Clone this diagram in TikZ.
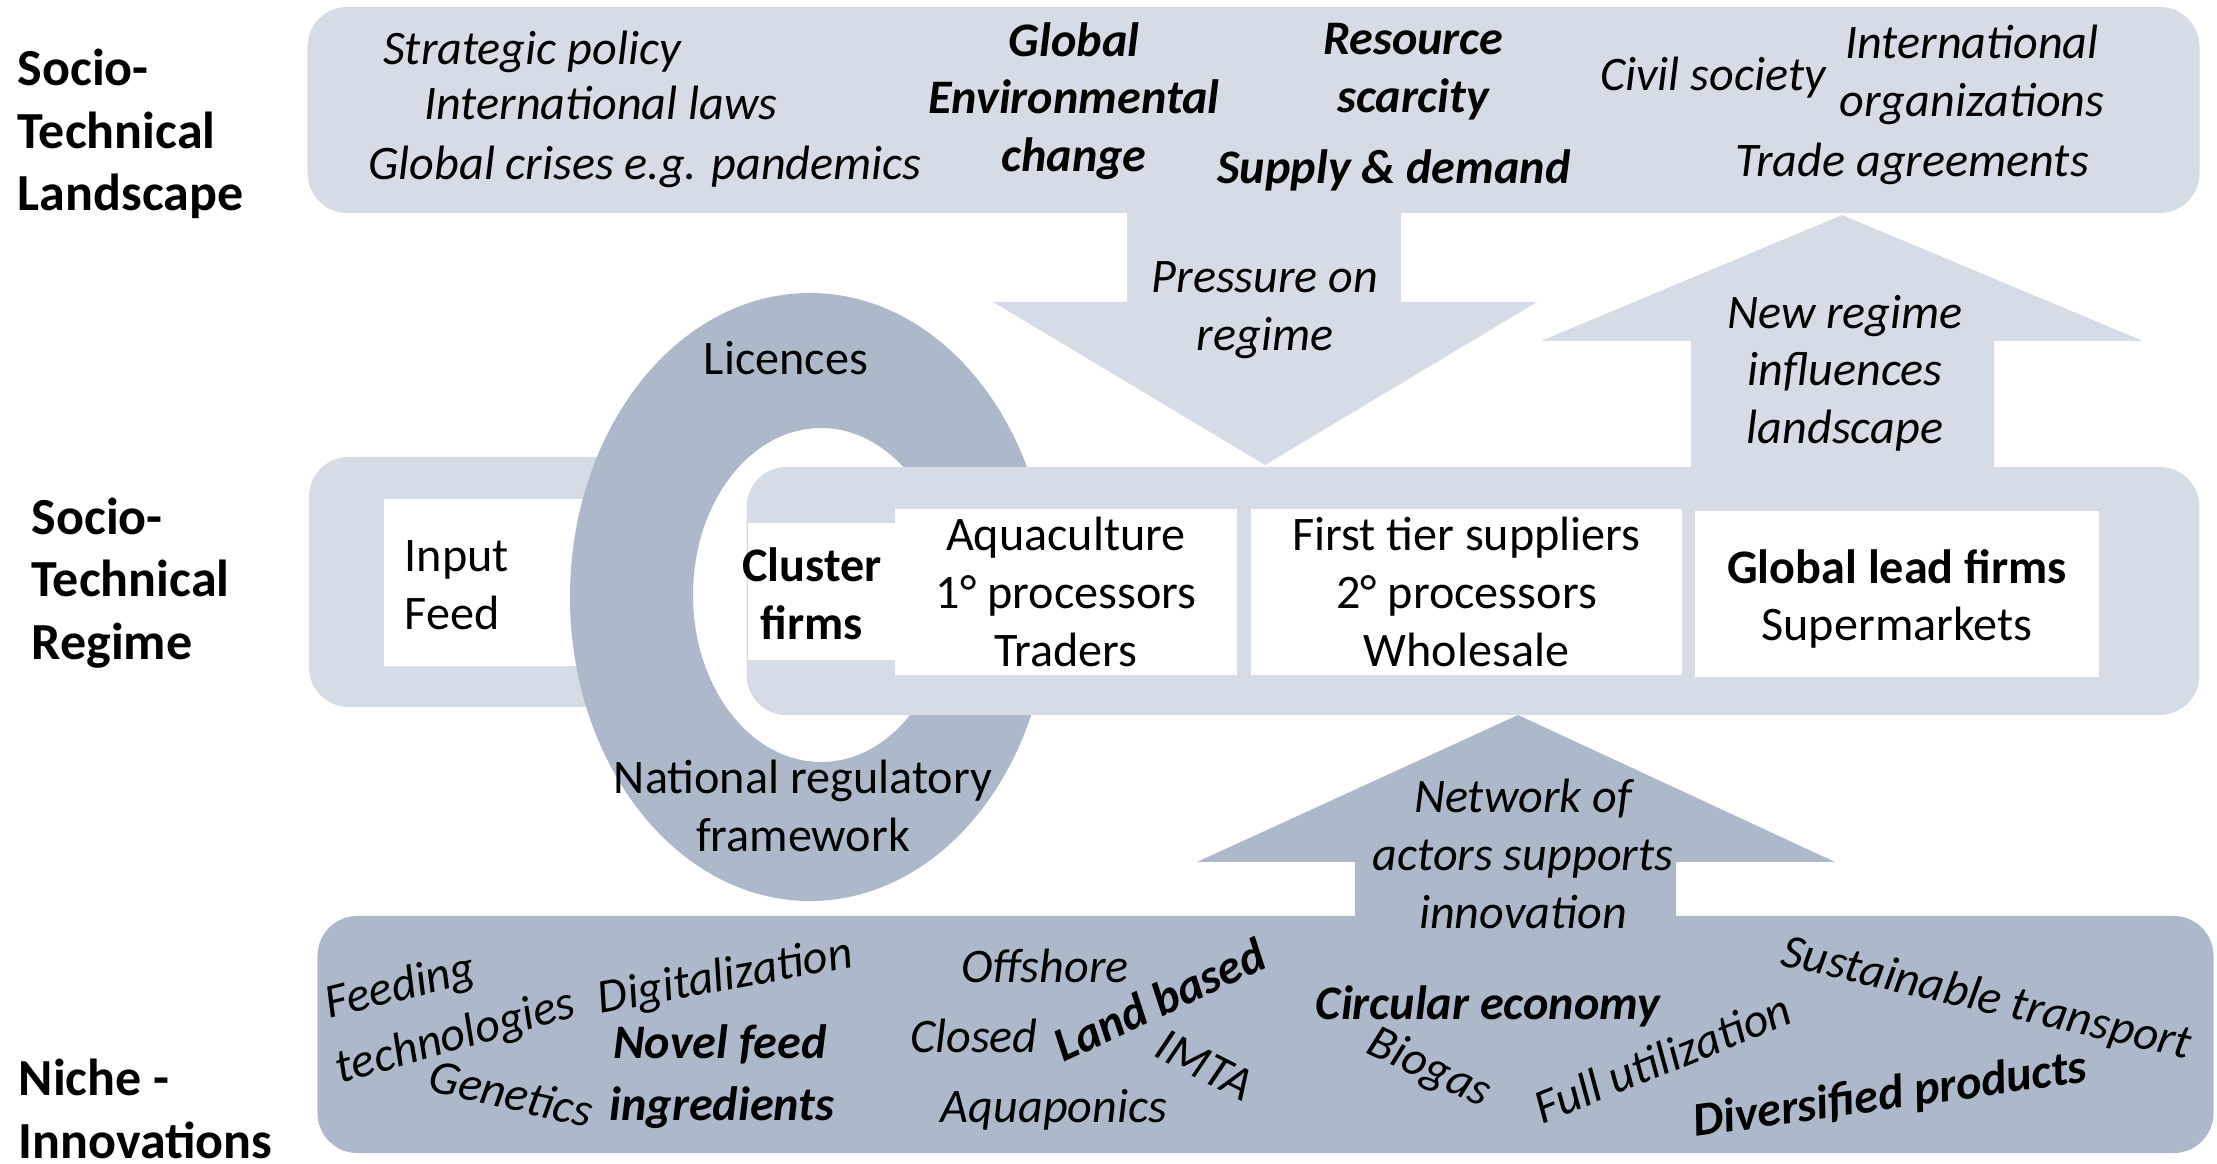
\documentclass[tikz,border=0pt]{standalone}
\usepackage{fontspec}
\setmainfont{Carlito}
\usetikzlibrary{positioning}
\definecolor{paleblue}{HTML}{D6DCE5}
\definecolor{greyblue}{HTML}{ADB9CA}
\newcommand{\diagfont}{\fontsize{13.7}{16.4}\selectfont}
\newcommand{\levelfont}{\fontsize{14.8}{17.7}\selectfont\bfseries}
\tikzset{
  level/.style={anchor=west,align=left,inner sep=0pt,font=\levelfont},
  word/.style={inner sep=0pt,text height=8.8pt,text depth=0pt,font=\diagfont\itshape},
  bword/.style={word,font=\diagfont\bfseries\itshape},
  plainword/.style={word,font=\diagfont},
  lines/.style={inner sep=0pt,align=center,font=\diagfont\itshape},
  blines/.style={lines,font=\diagfont\bfseries\itshape},
  palebox/.style={fill=paleblue,rounded corners=4mm,inner sep=0pt},
  darkbox/.style={fill=greyblue,rounded corners=4mm,inner sep=0pt},
  actorbox/.style={fill=white,inner sep=0pt,align=center,font=\diagfont,
    minimum height=1.66cm}
}

\begin{document}
\begin{tikzpicture}[x=0.01cm,y=-0.01cm]
  \useasboundingbox (0,0) rectangle (2217,1164);

  % landscape level
  \node (landbox) [palebox,minimum width=18.91cm,minimum height=2.06cm] at (1253.5,110) {};
  \fill[paleblue] (1127,200) -- (1127,302) -- (993,302) -- (1265,465)
    -- (1537,302) -- (1401,302) -- (1401,200) -- cycle;
  \fill[paleblue] (1691,480) -- (1691,341) -- (1541,341) -- (1842,215)
    -- (2143,341) -- (1994,341) -- (1994,480) -- cycle;

  % regime level, left part under the ring
  \node (inputbox) [palebox,minimum width=3.51cm,minimum height=2.5cm] at (484.5,582) {};
  \fill[white] (384,499) rectangle (640,666);
  \node (input) [level,font=\diagfont] at (404,585) {Input\\Feed};

  % regulatory ring
  \fill[greyblue,even odd rule] (810,597) ellipse [x radius=240,y radius=304]
    (821,595) ellipse [x radius=128,y radius=167];
  \node (licences) [plainword] at (786,359) {Licences};
  \node (natreg) [lines,font=\diagfont] at (803,806) {National regulatory\\framework};

  % regime level, value chain
  \node (regimebox) [palebox,minimum width=14.52cm,minimum height=2.48cm] at (1473,591) {};
  \node (clusterbox) [fill=white,inner sep=0pt,minimum width=1.47cm,minimum height=1.37cm] at (821.5,591.5) {};
  \node (cluster) [lines,font=\diagfont\bfseries] at (812,594) {Cluster\\firms};
  \node (aqua) [actorbox,minimum width=3.42cm] at (1066,592) {Aquaculture\\1° processors\\Traders};
  \node (tier) [actorbox,minimum width=4.31cm] at (1466.5,592) {First tier suppliers\\2° processors\\Wholesale};
  \node (lead) [actorbox,minimum width=4.04cm] at (1897,594) {};
  \node (leadtext) [lines,font=\diagfont] at (1897,599) {\textbf{Global lead firms}\\Supermarkets};

  % niche level
  \fill[greyblue] (1355,930) -- (1355,862) -- (1197,862) -- (1518,715)
    -- (1835,862) -- (1676,862) -- (1676,930) -- cycle;
  \node (nichebox) [darkbox,minimum width=18.95cm,minimum height=2.37cm] at (1265.5,1034.5) {};

  % level labels
  \node (landlabel) [level] at (17,134) {Socio-\\Technical\\Landscape};
  \node (regimelabel) [level] at (31,583) {Socio-\\Technical\\Regime};
  \node (nichelabel) [level] at (18,1109) {Niche -\\Innovations};

  % landscape factors
  \node (strat) [word] at (532,49) {Strategic policy};
  \node (intlaw) [word] at (601,104) {International laws};
  \node (crises) [word] at (645,164) {Global crises e.g. pandemics};
  \node (globenv) [blines] at (1074,101) {Global\\Environmental\\change};
  \node (resource) [blines] at (1413,72) {Resource\\scarcity};
  \node (supply) [bword] at (1394,168) {Supply \& demand};
  \node (civil) [word] at (1713,75) {Civil society};
  \node (intorg) [lines] at (1972,75) {International\\organizations};
  \node (trade) [word] at (1912,161) {Trade agreements};

  % arrow texts
  \node (pressure) [lines] at (1265,310) {Pressure on\\regime};
  \node (newregime) [lines] at (1845,373) {New regime\\influences\\landscape};
  \node (network) [lines] at (1523,854) {Network of\\actors supports\\innovation};

  % niche innovations
  \node (feeding) [word,rotate=14] at (400,985) {Feeding};
  \node (feedtech) [word,rotate=16] at (455,1035) {technologies};
  \node (genetics) [word,rotate=-13] at (511,1094) {Genetics};
  \node (digital) [word,rotate=10.5] at (725,975) {Digitalization};
  \node (novel) [bword] at (720,1043) {Novel feed};
  \node (ingred) [bword] at (722,1105) {ingredients};
  \node (offshore) [word] at (1045,967) {Offshore};
  \node (closed) [word] at (974,1037) {Closed};
  \node (landbased) [bword,rotate=25] at (1160,1001) {Land based};
  \node (imta) [word,rotate=-27] at (1205,1065) {IMTA};
  \node (aquaponics) [word] at (1054,1107) {Aquaponics};
  \node (circular) [bword] at (1488,1004) {Circular economy};
  \node (biogas) [word,rotate=-25] at (1430,1066) {Biogas};
  \node (fullutil) [word,rotate=22] at (1663,1059) {Full utilization};
  \node (sustain) [word,rotate=-13] at (1987,997) {Sustainable transport};
  \node (diversified) [bword,rotate=8] at (1890,1094) {Diversified products};
\end{tikzpicture}
\end{document}
